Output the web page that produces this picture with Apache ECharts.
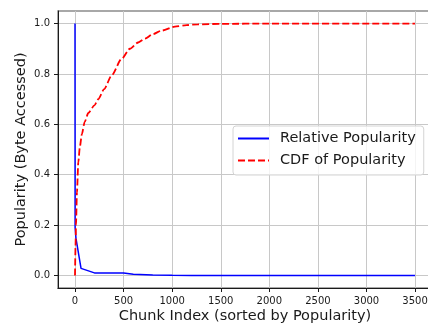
<!DOCTYPE html>
<html>
<head>
<meta charset="utf-8">
<script src="https://cdn.jsdelivr.net/npm/echarts@6/dist/echarts.min.js"></script>
<style>
  html, body { margin: 0; padding: 0; background: #fff; }
  #chart { width: 428px; height: 324px; }
</style>
</head>
<body>
<div id="chart"></div>
<script>
// Popularity per chunk, normalised to the most popular chunk
var relChunk = [0, 1, 10, 62, 200, 500, 600, 800, 1000, 1200, 3499];
var relValue = [1.0, 0.19, 0.147, 0.028, 0.01, 0.01, 0.005, 0.002, 0.0005, 0.0, 0.0];

// Cumulative share of bytes accessed
var cdfChunk = [0, 5, 10, 20, 34, 50, 70, 100, 137, 200, 240, 300, 377, 480, 565, 650, 720, 800, 891, 1028, 1150, 1264, 1500, 2000, 3499];
var cdfValue = [0, 0.11, 0.2, 0.33, 0.45, 0.51, 0.56, 0.61, 0.645, 0.675, 0.70, 0.74, 0.794, 0.86, 0.90, 0.925, 0.94, 0.958, 0.972, 0.988, 0.994, 0.997, 0.999, 1.0, 1.0];

// Tick positions
var xTicks = [0, 500, 1000, 1500, 2000, 2500, 3000, 3500];
var yTicks = [0, 0.2, 0.4, 0.6, 0.8, 1.0];

function pairs(xs, ys) {
  return xs.map(function (x, i) { return [x, ys[i]]; });
}

var font = 'DejaVu Sans';
var chart = echarts.init(document.getElementById('chart'), null, { renderer: 'canvas' });

chart.setOption({
  animation: false,
  backgroundColor: '#ffffff',
  grid: {
    left: 58, top: 11, width: 374, bottom: 36,
    outerBoundsMode: 'none',
    containLabel: false,
    show: true, borderColor: '#8c8c8c', borderWidth: 1.5,
    backgroundColor: 'transparent'
  },
  legend: {
    orient: 'vertical',
    left: 233, top: 126,
    padding: [5, 8, 7, 4],
    itemGap: 7,
    itemWidth: 31, itemHeight: 14,
    itemStyle: { opacity: 0, borderWidth: 0 },
    backgroundColor: 'rgba(255,255,255,0.8)',
    borderColor: '#d4d4d4', borderWidth: 1, borderRadius: 3,
    textStyle: { fontFamily: font, fontSize: 14.5, color: '#1a1a1a', padding: [0, 0, 0, 6], lineHeight: 14 },
    data: ['Relative Popularity', 'CDF of Popularity']
  },
  xAxis: {
    type: 'value',
    min: -175, max: 3674,
    name: 'Chunk Index (sorted by Popularity)',
    nameLocation: 'middle', nameGap: 21, nameMoveOverlap: false,
    nameTextStyle: { fontFamily: font, fontSize: 14.5, color: '#1a1a1a' },
    axisLine: { show: true, onZero: false, lineStyle: { color: '#1a1a1a', width: 1 } },
    axisTick: { show: true, inside: false, length: 4, customValues: xTicks, lineStyle: { color: '#1a1a1a' } },
    axisLabel: {
      customValues: xTicks, margin: 8, fontFamily: font, fontSize: 10, color: '#1a1a1a',
      formatter: function (v) { return String(v); }
    },
    splitLine: { show: true, lineStyle: { color: '#c8c8c8', width: 1 } }
  },
  yAxis: {
    type: 'value',
    min: -0.05, max: 1.05,
    name: 'Popularity (Byte Accessed)',
    nameLocation: 'middle', nameGap: 29, nameMoveOverlap: false,
    nameTextStyle: { fontFamily: font, fontSize: 14.5, color: '#1a1a1a' },
    axisLine: { show: true, onZero: false, lineStyle: { color: '#1a1a1a', width: 1 } },
    axisTick: { show: true, inside: false, length: 4, customValues: yTicks, lineStyle: { color: '#1a1a1a' } },
    axisLabel: {
      customValues: yTicks, margin: 8, fontFamily: font, fontSize: 10, color: '#1a1a1a',
      formatter: function (v) { return v.toFixed(1); }
    },
    splitLine: { show: true, lineStyle: { color: '#c8c8c8', width: 1 } }
  },
  series: [
    {
      name: 'Relative Popularity',
      type: 'line',
      data: pairs(relChunk, relValue),
      symbol: 'none', showSymbol: false,
      lineStyle: { color: '#0000ff', width: 1.5 },
      itemStyle: { color: '#0000ff' }
    },
    {
      name: 'CDF of Popularity',
      type: 'line',
      data: pairs(cdfChunk, cdfValue),
      symbol: 'none', showSymbol: false,
      smooth: 0.25, smoothMonotone: 'x',
      lineStyle: { color: '#ff0000', width: 1.8, type: [7, 3] },
      itemStyle: { color: '#ff0000' }
    }
  ]
});
</script>
</body>
</html>
